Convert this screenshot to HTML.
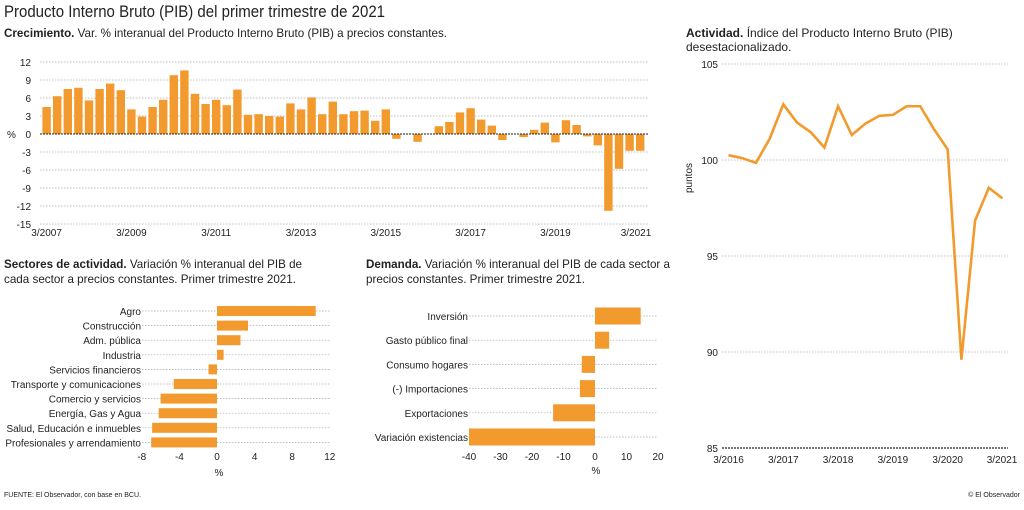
<!DOCTYPE html>
<html><head><meta charset="utf-8"><style>
html,body{margin:0;padding:0;background:#fff;}
svg{display:block;font-family:"Liberation Sans Narrow","Liberation Sans",sans-serif;}
</style></head><body>
<svg width="1024" height="510" viewBox="0 0 1024 510" xmlns="http://www.w3.org/2000/svg">
<text x="4" y="17" font-size="16.5" fill="#222" textLength="381" lengthAdjust="spacingAndGlyphs">Producto Interno Bruto (PIB) del primer trimestre de 2021</text>
<text x="4" y="37" font-size="12" fill="#222" textLength="443" lengthAdjust="spacingAndGlyphs"><tspan font-weight="bold">Crecimiento.</tspan> Var. % interanual del Producto Interno Bruto (PIB) a precios constantes.</text>
<g id="top"></g>
<text x="4" y="268" font-size="12" fill="#222" textLength="298" lengthAdjust="spacingAndGlyphs"><tspan font-weight="bold">Sectores de actividad.</tspan> Variación % interanual del PIB de</text>
<text x="4" y="283" font-size="12" fill="#222" textLength="292" lengthAdjust="spacingAndGlyphs">cada sector a precios constantes. Primer trimestre 2021.</text>
<text x="366" y="268" font-size="12" fill="#222" textLength="304" lengthAdjust="spacingAndGlyphs"><tspan font-weight="bold">Demanda.</tspan> Variación % interanual del PIB de cada sector a</text>
<text x="366" y="283" font-size="12" fill="#222" textLength="219" lengthAdjust="spacingAndGlyphs">precios constantes. Primer trimestre 2021.</text>
<text x="686" y="37" font-size="12" fill="#222"><tspan font-weight="bold">Actividad.</tspan> Índice del Producto Interno Bruto (PIB)</text>
<text x="686" y="51" font-size="12" fill="#222">desestacionalizado.</text>
<g id="sec"></g><g id="dem"></g><g id="act"></g>
<text x="4" y="497" font-size="7" fill="#222">FUENTE: El Observador, con base en BCU.</text>
<text x="1020" y="497" font-size="7" fill="#222" text-anchor="end">© El Observador</text>
</svg>
<script>
const NS="http://www.w3.org/2000/svg";
function el(p,t,a,txt){const e=document.createElementNS(NS,t);for(const k in a)e.setAttribute(k,a[k]);if(txt!==undefined)e.textContent=txt;document.getElementById(p).appendChild(e);return e;}
const OR="#f29a2e", G="#aaa";
const vals=[4.5,6.3,7.5,7.7,5.6,7.5,8.4,7.3,4.1,2.9,4.5,5.7,9.8,10.6,6.7,5.0,5.7,4.8,7.4,3.2,3.3,3.0,2.9,5.1,4.1,6.1,3.3,5.4,3.3,3.8,3.9,2.2,4.1,-0.8,0.05,-1.3,0.05,1.3,2.0,3.6,4.3,2.4,1.4,-1.0,0,-0.5,0.7,1.9,-1.4,2.3,1.5,-0.4,-1.9,-12.8,-5.8,-2.8,-2.8];
const z=134,u=6;
for(let v=12;v>=-15;v-=3){const y=z-v*u;
 if(v!==0)el("top","line",{x1:40,x2:648,y1:y,y2:y,stroke:G,"stroke-width":0.7,"stroke-dasharray":"1.5,1.5"});
 el("top","text",{x:31,y:y+4,"font-size":10,"text-anchor":"end",fill:"#222"},v);}
el("top","text",{x:7,y:138,"font-size":10,fill:"#222"},"%");
vals.forEach((v,i)=>{const cx=46.6+i*10.6;const y=v>=0?z-v*u:z;el("top","rect",{x:cx-4.2,y:y,width:8.4,height:Math.abs(v)*u,fill:OR});});
el("top","line",{x1:40,x2:648,y1:z,y2:z,stroke:"#222","stroke-width":1,"stroke-dasharray":"2,1"});
["3/2007","3/2009","3/2011","3/2013","3/2015","3/2017","3/2019","3/2021"].forEach((t,k)=>{let x=46.6+k*8*10.6;if(k==7)x=636;el("top","text",{x:x,y:236,"font-size":10,"text-anchor":"middle",fill:"#222"},t);});
const sec=[["Agro",10.5],["Construcción",3.3],["Adm. pública",2.5],["Industria",0.7],["Servicios financieros",-0.9],["Transporte y comunicaciones",-4.6],["Comercio y servicios",-6.0],["Energía, Gas y Agua",-6.2],["Salud, Educación e inmuebles",-6.9],["Profesionales y arrendamiento",-7.0]];
sec.forEach((d,i)=>{const y=311+i*14.6;
 el("sec","line",{x1:142,x2:330,y1:y,y2:y,stroke:G,"stroke-width":0.7,"stroke-dasharray":"1.5,1.5"});
 el("sec","text",{x:141,y:y+4,"font-size":10,"text-anchor":"end",fill:"#222"},d[0]);
 const x0=217,w=d[1]*9.4;el("sec","rect",{x:w>=0?x0:x0+w,y:y-5,width:Math.abs(w),height:10,fill:OR});});
[-8,-4,0,4,8,12].forEach(v=>el("sec","text",{x:217+v*9.4,y:460,"font-size":10,"text-anchor":"middle",fill:"#222"},v));
el("sec","text",{x:219,y:476,"font-size":10,"text-anchor":"middle",fill:"#222"},"%");
const dem=[["Inversión",14.5],["Gasto público final",4.5],["Consumo hogares",-4.2],["(-) Importaciones",-4.8],["Exportaciones",-13.3],["Variación existencias",-40]];
dem.forEach((d,i)=>{const y=316+i*24.2;
 el("dem","line",{x1:469,x2:658,y1:y,y2:y,stroke:G,"stroke-width":0.7,"stroke-dasharray":"1.5,1.5"});
 el("dem","text",{x:468,y:y+4,"font-size":10,"text-anchor":"end",fill:"#222"},d[0]);
 const x0=595,w=d[1]*3.15;el("dem","rect",{x:w>=0?x0:x0+w,y:y-8.5,width:Math.abs(w),height:17,fill:OR});});
[-40,-30,-20,-10,0,10,20].forEach(v=>el("dem","text",{x:595+v*3.15,y:460,"font-size":10,"text-anchor":"middle",fill:"#222"},v));
el("dem","text",{x:596,y:474,"font-size":10,"text-anchor":"middle",fill:"#222"},"%");
const av=[100.25,100.1,99.85,101.1,102.9,101.95,101.45,100.65,102.8,101.3,101.9,102.3,102.35,102.8,102.8,101.6,100.55,89.6,96.85,98.55,98.0];
const Y=v=>160-(v-100)*19.2;
[105,100,95,90].forEach(v=>{el("act","line",{x1:722,x2:1008,y1:Y(v),y2:Y(v),stroke:G,"stroke-width":0.7,"stroke-dasharray":"1.5,1.5"});el("act","text",{x:718,y:Y(v)+4,"font-size":10,"text-anchor":"end",fill:"#222"},v);});
el("act","text",{x:718,y:Y(85)+4,"font-size":10,"text-anchor":"end",fill:"#222"},85);
el("act","line",{x1:722,x2:1008,y1:Y(85),y2:Y(85),stroke:"#222","stroke-width":1.2,"stroke-dasharray":"2,1"});
el("act","text",{x:0,y:0,"font-size":10,fill:"#222",transform:"translate(692,178) rotate(-90)","text-anchor":"middle"},"puntos");
el("act","polyline",{points:av.map((v,i)=>(728.5+i*13.7)+","+Y(v)).join(" "),fill:"none",stroke:OR,"stroke-width":2.6,"stroke-linejoin":"miter"});
["3/2016","3/2017","3/2018","3/2019","3/2020","3/2021"].forEach((t,k)=>{let x=728.5+k*4*13.7;if(k==5)x=1002;el("act","text",{x:x,y:463,"font-size":10,"text-anchor":"middle",fill:"#222"},t);});
</script>
</body></html>
